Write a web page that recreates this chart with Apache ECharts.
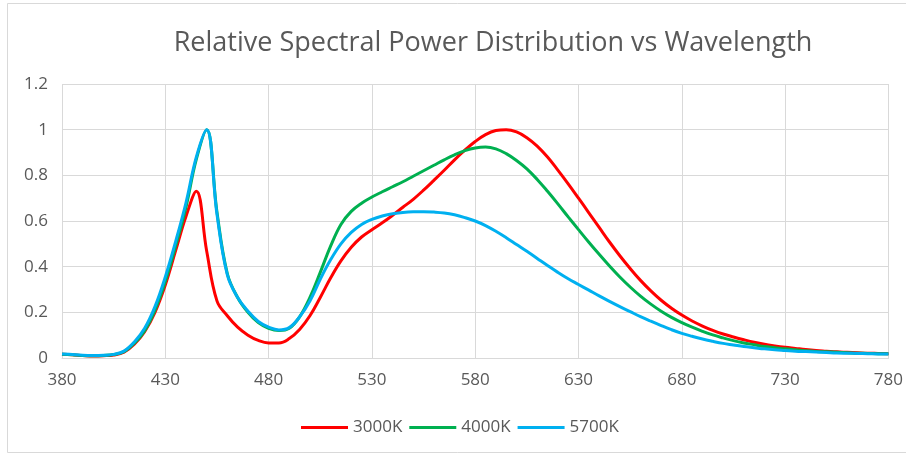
<!DOCTYPE html>
<html>
<head>
<meta charset="utf-8">
<script src="https://cdn.jsdelivr.net/npm/echarts@6/dist/echarts.min.js"></script>
<style>
html,body{margin:0;padding:0;background:#fff;}
#chart{width:906px;height:455px;}
</style>
</head>
<body>
<div id="chart"></div>
<script>
// Wavelengths (nm), 5 nm steps
const wavelengths = [380,385,390,395,400,405,410,415,420,425,430,435,440,445,450,455,460,465,470,475,480,485,490,495,500,505,510,515,520,525,530,535,540,545,550,555,560,565,570,575,580,585,590,595,600,605,610,615,620,625,630,635,640,645,650,655,660,665,670,675,680,685,690,695,700,705,710,715,720,725,730,735,740,745,750,755,760,765,770,775,780];

const spd3000K = [0.016,0.014,0.011,0.009,0.010,0.013,0.025,0.060,0.115,0.200,0.320,0.470,0.620,0.730,0.470,0.250,0.185,0.135,0.100,0.077,0.066,0.066,0.085,0.125,0.185,0.265,0.350,0.425,0.485,0.530,0.562,0.592,0.625,0.660,0.695,0.735,0.778,0.822,0.868,0.910,0.948,0.978,0.996,1.000,0.990,0.965,0.928,0.880,0.823,0.763,0.700,0.636,0.572,0.508,0.448,0.392,0.340,0.294,0.253,0.218,0.188,0.162,0.140,0.121,0.105,0.092,0.080,0.069,0.060,0.053,0.047,0.042,0.037,0.033,0.030,0.027,0.025,0.023,0.021,0.020,0.019];

const spd4000K = [0.016,0.014,0.011,0.010,0.011,0.015,0.028,0.065,0.120,0.210,0.335,0.490,0.660,0.870,1.000,0.640,0.370,0.265,0.200,0.155,0.130,0.120,0.130,0.180,0.265,0.375,0.490,0.585,0.642,0.678,0.705,0.728,0.750,0.772,0.796,0.820,0.844,0.868,0.890,0.908,0.920,0.924,0.916,0.895,0.865,0.828,0.782,0.730,0.675,0.618,0.562,0.507,0.454,0.403,0.355,0.311,0.271,0.236,0.205,0.178,0.155,0.135,0.117,0.101,0.088,0.076,0.066,0.058,0.050,0.045,0.040,0.036,0.032,0.029,0.027,0.025,0.023,0.021,0.020,0.019,0.019];

const spd5700K = [0.018,0.015,0.012,0.011,0.012,0.016,0.030,0.070,0.130,0.225,0.355,0.510,0.680,0.880,1.000,0.630,0.365,0.265,0.205,0.160,0.135,0.123,0.133,0.180,0.250,0.345,0.430,0.500,0.550,0.585,0.607,0.622,0.632,0.637,0.640,0.641,0.639,0.635,0.627,0.615,0.600,0.580,0.555,0.527,0.497,0.467,0.436,0.405,0.375,0.347,0.322,0.297,0.272,0.248,0.225,0.203,0.181,0.161,0.142,0.124,0.108,0.095,0.083,0.073,0.064,0.057,0.050,0.045,0.040,0.036,0.033,0.030,0.028,0.026,0.024,0.022,0.021,0.020,0.019,0.018,0.017];

const seriesNames = ['3000K','4000K','5700K'];
const xTickLabels = [380,430,480,530,580,630,680,730,780];
const yTickLabels = [0,0.2,0.4,0.6,0.8,1,1.2];

const toPairs = vals => wavelengths.map((w,i)=>[w, vals[i]]);
const colors = ['#FF0000','#00B050','#00B0F0'];
const dataSets = [spd3000K, spd4000K, spd5700K];

const FONT = '"Open Sans", "DejaVu Sans", sans-serif';
const chart = echarts.init(document.getElementById('chart'), null, {renderer:'canvas'});
chart.setOption({
  animation: false,
  backgroundColor: '#ffffff',
  title: {
    text: 'Relative Spectral Power Distribution vs Wavelength',
    left: 488, top: 25, textAlign: 'center',
    textStyle: {fontFamily: FONT, fontSize: 27, fontWeight: 'normal', color: '#595959'}
  },
  graphic: [{
    type: 'rect', silent: true, z: -1,
    shape: {x: 7.5, y: 3.5, width: 1000, height: 449},
    style: {fill: 'none', stroke: '#d9d9d9', lineWidth: 1}
  }],
  legend: {
    data: seriesNames.map(n => ({name: n, icon: 'rect'})),
    left: 296, top: 414,
    itemWidth: 47, itemHeight: 3, itemGap: 7,
    textStyle: {fontFamily: FONT, fontSize: 17, color: '#595959'}
  },
  grid: {left: 62, right: 17, top: 84, bottom: 97},
  xAxis: {
    type: 'value',
    min: xTickLabels[0], max: xTickLabels[xTickLabels.length-1],
    interval: xTickLabels[1]-xTickLabels[0],
    axisLine: {show: true, lineStyle: {color: '#d9d9d9', width: 1}},
    axisTick: {show: false},
    axisLabel: {margin: 14, fontFamily: FONT, fontSize: 17, color: '#595959'},
    splitLine: {show: true, lineStyle: {color: '#d9d9d9', width: 1}}
  },
  yAxis: {
    type: 'value',
    min: yTickLabels[0], max: yTickLabels[yTickLabels.length-1],
    interval: yTickLabels[1]-yTickLabels[0],
    axisLine: {show: false},
    axisTick: {show: false},
    axisLabel: {margin: 14, fontFamily: FONT, fontSize: 17, color: '#595959',
      formatter: v => String(Math.round(v*10)/10)},
    splitLine: {show: true, lineStyle: {color: '#d9d9d9', width: 1}}
  },
  series: seriesNames.map((name,i)=>({
    name, type: 'line',
    data: toPairs(dataSets[i]),
    smooth: 0.4,
    symbol: 'none', showSymbol: false,
    color: colors[i],
    lineStyle: {color: colors[i], width: 3}
  }))
});
</script>
</body>
</html>
